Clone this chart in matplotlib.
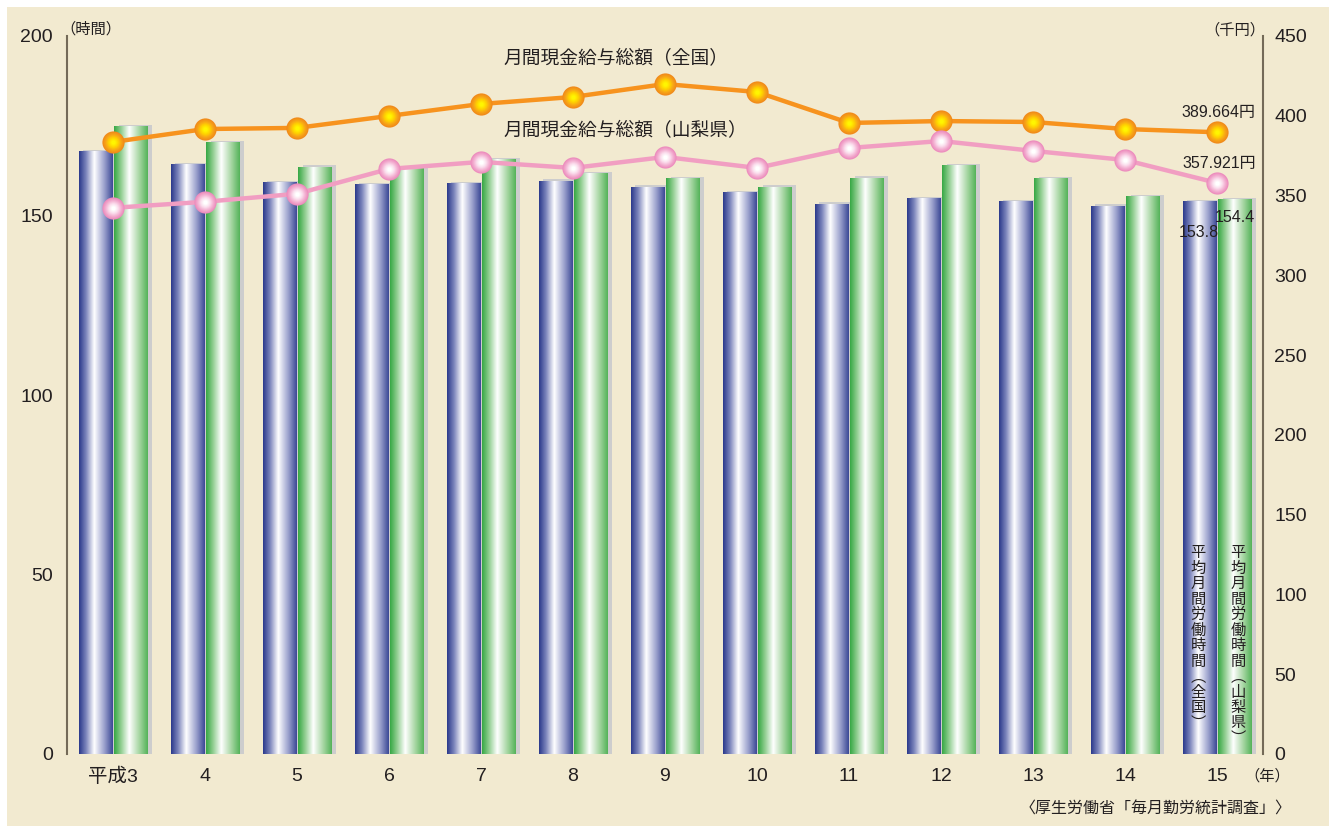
import numpy as np
import matplotlib
matplotlib.use("Agg")
import matplotlib.pyplot as plt
from matplotlib.colors import LinearSegmentedColormap
from matplotlib.patches import Rectangle

plt.rcParams["font.family"] = ["Liberation Sans", "Noto Sans CJK JP"]
plt.rcParams["text.color"] = "#231f20"

# data
years = ["平成3", "4", "5", "6", "7", "8", "9", "10", "11", "12", "13", "14", "15"]
hours_japan = [167.7, 164.1, 159.1, 158.5, 158.8, 159.6, 157.9, 156.3, 153.2, 154.6, 153.8, 152.6, 153.8]
hours_yamanashi = [174.7, 170.2, 163.5, 163.2, 165.5, 161.6, 160.2, 157.9, 160.4, 163.8, 160.2, 155.2, 154.4]
wage_japan = [383.6, 391.7, 392.4, 399.9, 407.4, 411.8, 419.9, 414.9, 395.5, 396.7, 396.1, 391.7, 389.664]
wage_yamanashi = [342.3, 346.1, 351.1, 366.7, 371.1, 367.3, 374.2, 367.3, 379.8, 384.2, 378.0, 372.3, 357.921]

label_japan = "平均月間労働時間（全国）"
label_yamanashi = "平均月間労働時間（山梨県）"

W, H = 1329, 826
bg = "#f2ead0"
ink = "#231f20"


def gradient(stops, n=96):
    cmap = LinearSegmentedColormap.from_list("g", stops)
    return cmap(np.linspace(0, 1, n))[None, :, :3]


blue_grad = gradient([(0, "#2b3a8c"), (0.2, "#7a83bb"), (0.45, "#ffffff"),
                      (0.75, "#9ba1cd"), (1, "#3c4996")])
green_grad = gradient([(0, "#37a845"), (0.2, "#8fcd8f"), (0.45, "#ffffff"),
                       (0.75, "#a6d6a2"), (1, "#55b35a")])

fig = plt.figure(figsize=(W / 100, H / 100), dpi=100, facecolor="white")
fig.patches.append(Rectangle((7 / W, 0), 1, 1 - 7 / H, transform=fig.transFigure,
                             facecolor=bg, edgecolor="none", zorder=-10))

ax = fig.add_axes([67 / W, 1 - 754 / H, (1263 - 67) / W, (754 - 36) / H])
ax.set_facecolor("none")
x = np.arange(len(years))
bw = 0.365
off = 0.1925

# shadows
for pos, vals in [(x - off, hours_japan), (x + off, hours_yamanashi)]:
    ax.bar(pos + 0.05, np.array(vals) + 0.6, width=bw, color="#cdcdcd", zorder=1)

# gradient bars
for pos, vals, grad in [(x - off, hours_japan, blue_grad), (x + off, hours_yamanashi, green_grad)]:
    bars = ax.bar(pos, vals, width=bw, color="none", zorder=2)
    for b in bars:
        ax.imshow(grad, extent=(b.get_x(), b.get_x() + b.get_width(), 0, b.get_height()),
                  aspect="auto", interpolation="bilinear", zorder=2)

ax.set_xlim(-0.5, len(years) - 0.5)
ax.set_ylim(0, 200)
ax.set_yticks(np.arange(0, 201, 50))
ax.set_xticks(x)
ax.set_xticklabels(years)
ax.tick_params(length=0, labelsize=14, colors=ink)
ax.tick_params(axis="x", pad=10)
ax.tick_params(axis="y", pad=10)
for s in ["top", "bottom", "right"]:
    ax.spines[s].set_visible(False)
ax.spines["left"].set_color("#746a58")
ax.spines["left"].set_linewidth(1.5)

ax.annotate("153.8", (x[-1] - off, hours_japan[-1]), xytext=(0, -22), textcoords="offset points",
            ha="center", va="center", fontsize=11.5)
ax.annotate("154.4", (x[-1] + off, hours_yamanashi[-1]), xytext=(0, -13), textcoords="offset points",
            ha="center", va="center", fontsize=11.5)

# wage lines
ax2 = ax.twinx()
ax2.set_ylim(0, 450)
ax2.set_yticks(np.arange(0, 451, 50))
ax2.tick_params(length=0, labelsize=14, colors=ink, pad=8)
for s in ["top", "bottom", "left"]:
    ax2.spines[s].set_visible(False)
ax2.spines["right"].set_color("#746a58")
ax2.spines["right"].set_linewidth(1.5)

# radial-looking markers: stacked discs from rim colour to centre colour
orange_marker = LinearSegmentedColormap.from_list("om", ["#f08a1a", "#f8a816", "#ffd400", "#fff500"])
pink_marker = LinearSegmentedColormap.from_list("pm", ["#ec8cbd", "#f4b3d3", "#fbe0ee", "#ffffff"])
sizes = np.linspace(16, 3, 10)

ax2.plot(x, wage_japan, color="#f7931e", lw=3.2, zorder=3)
for k, ms in enumerate(sizes):
    ax2.plot(x, wage_japan, ls="none", marker="o", ms=ms, mfc=orange_marker(k / (len(sizes) - 1)),
             mec="none", zorder=4)

ax2.plot(x, wage_yamanashi, color="#f19ec2", lw=3.2, zorder=3)
for k, ms in enumerate(sizes):
    ax2.plot(x, wage_yamanashi, ls="none", marker="o", ms=ms, mfc=pink_marker(k / (len(sizes) - 1)),
             mec="none", zorder=4)

ax2.annotate("389.664円", (x[-1], wage_japan[-1]), xytext=(28, 14), textcoords="offset points",
             ha="right", va="center", fontsize=11.5)
ax2.annotate("357.921円", (x[-1], wage_yamanashi[-1]), xytext=(28, 14), textcoords="offset points",
             ha="right", va="center", fontsize=11.5)

ax2.text(4.24, 435.5, "月間現金給与総額（全国）", ha="left", va="center", fontsize=13.5)
ax2.text(4.24, 390.5, "月間現金給与総額（山梨県）", ha="left", va="center", fontsize=13.5)

# units, source
fig.text(91 / W, 1 - 29 / H, "（時間）", ha="center", va="center", fontsize=11)
fig.text(1235 / W, 1 - 30 / H, "（千円）", ha="center", va="center", fontsize=11)
fig.text(1267 / W, 1 - 776 / H, "（年）", ha="center", va="center", fontsize=11)
fig.text(1292 / W, 1 - 808 / H, "〈厚生労働省「毎月勤労統計調査」〉", ha="right", va="center", fontsize=11.5)

# vertical series names inside the last bars
vert = {"（": "︵", "）": "︶"}
for label, px in [(label_japan, 1198), (label_yamanashi, 1238)]:
    for k, ch in enumerate(label):
        fig.text(px / W, 1 - (553 + 15.5 * k) / H, vert.get(ch, ch),
                 ha="center", va="center", fontsize=11)

fig.savefig("out.png", dpi=100, facecolor=fig.get_facecolor())
